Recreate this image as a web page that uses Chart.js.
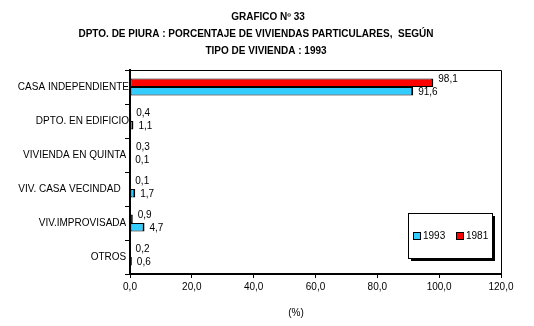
<!DOCTYPE html>
<html>
<head>
<meta charset="utf-8">
<script src="https://cdn.jsdelivr.net/npm/chart.js@4/dist/chart.umd.min.js"></script>
<style>
  html, body { margin: 0; padding: 0; background: #fff; }
  #wrap { width: 534px; height: 326px; }
</style>
</head>
<body>
<div id="wrap"><canvas id="viviendaChart" width="534" height="326"></canvas></div>
<script>
// datos
const categories = [
  "CASA INDEPENDIENTE",
  "DPTO. EN EDIFICIO",
  "VIVIENDA EN QUINTA ",
  "VIV. CASA VECINDAD   ",
  "VIV.IMPROVISADA ",
  "OTROS ",
];
const values1981 = [98.1, 0.4, 0.3, 0.1, 0.9, 0.2];
const values1993 = [91.6, 1.1, 0.1, 1.7, 4.7, 0.6];
const xTicks = [0, 20, 40, 60, 80, 100, 120];
const titleLines = [
  "GRAFICO Nº 33",
  "DPTO. DE PIURA : PORCENTAJE DE VIVIENDAS PARTICULARES,  SEGÚN",
  "TIPO DE VIVIENDA : 1993",
];

const BLUE = "#33CCFF";
const RED = "#FF0000";
const FONT = "'Liberation Sans', Arial, sans-serif";

const fmt = (v) => v.toFixed(1).replace(".", ",");

// -------------------------------------------------------------
// titulo, marco, etiquetas y leyenda dibujados a mano
// -------------------------------------------------------------
const decorPlugin = {
  id: "decor",
  beforeDraw(chart) {
    const c = chart.ctx;
    c.save();
    c.fillStyle = "#fff";
    c.fillRect(0, 0, chart.width, chart.height);
    c.restore();
  },
  afterDraw(chart) {
    const c = chart.ctx;
    const a = chart.chartArea;
    c.save();

    // titulo
    c.fillStyle = "#000";
    c.font = "bold 10px " + FONT;
    c.textAlign = "center";
    c.textBaseline = "middle";
    c.fillText(titleLines[0], 268, 17, 74);
    c.fillText(titleLines[1], 256, 34, 358);
    c.fillText(titleLines[2], 266, 51, 125);

    // marco superior y derecho
    c.strokeStyle = "#000";
    c.lineWidth = 1;
    c.beginPath();
    c.moveTo(a.left, a.top + 0.5);
    c.lineTo(a.right + 0.5, a.top + 0.5);
    c.lineTo(a.right + 0.5, a.bottom);
    c.stroke();

    // etiquetas de valores
    c.font = "10px " + FONT;
    c.textAlign = "left";
    chart.data.datasets.forEach((ds, i) => {
      const meta = chart.getDatasetMeta(i);
      meta.data.forEach((bar, j) => {
        const dy = i === 0 ? -4 : 1;
        c.fillText(fmt(ds.data[j]), bar.x + 5, bar.y + dy);
      });
    });

    // leyenda
    const lx = 408, ly = 213, lw = 84, lh = 45;
    c.fillStyle = "#000";
    c.fillRect(lx + 3, ly + 3, lw, lh);
    c.fillStyle = "#fff";
    c.fillRect(lx, ly, lw, lh);
    c.strokeRect(lx + 0.5, ly + 0.5, lw, lh);
    const items = [
      { text: "1993", color: BLUE, x: 413 },
      { text: "1981", color: RED, x: 456 },
    ];
    items.forEach((it) => {
      c.fillStyle = it.color;
      c.fillRect(it.x, 232, 7, 7);
      c.strokeRect(it.x + 0.5, 232.5, 7, 7);
      c.fillStyle = "#000";
      c.fillText(it.text, it.x + 10, 236);
    });

    // titulo del eje
    c.textAlign = "center";
    c.fillText("(%)", 296, 313);
    c.restore();
  },
};

const data = {
  labels: categories,
  datasets: [
    {
      label: "1981",
      data: values1981,
      backgroundColor: RED,
      borderColor: "#000",
      borderWidth: { top: 1, bottom: 1, left: 1, right: 2 },
      borderSkipped: false,
      categoryPercentage: 0.5,
      barPercentage: 1.0,
    },
    {
      label: "1993",
      data: values1993,
      backgroundColor: BLUE,
      borderColor: "#000",
      borderWidth: { top: 1, bottom: 1, left: 1, right: 2 },
      borderSkipped: false,
      categoryPercentage: 0.5,
      barPercentage: 1.0,
    },
  ],
};

const options = {
  indexAxis: "y",
  responsive: false,
  animation: false,
  layout: { padding: { left: 0, top: 70, right: 33, bottom: 0 } },
  plugins: {
    legend: { display: false },
    title: { display: false },
    tooltip: { enabled: false },
  },
  scales: {
    x: {
      min: 0,
      max: 120,
      afterBuildTicks(scale) {
        scale.ticks = xTicks.map((v) => ({ value: v }));
      },
      afterFit(scale) {
        scale.height = 52;
      },
      ticks: {
        color: "#000",
        font: { family: FONT, size: 10 },
        padding: 3,
        maxRotation: 0,
        callback: (v) => fmt(v),
      },
      grid: {
        drawOnChartArea: false,
        tickLength: 4,
        color: "#000",
      },
      border: { color: "#000", width: 2 },
    },
    y: {
      afterFit(scale) {
        scale.width = 130;
      },
      ticks: {
        color: "#000",
        font: { family: FONT, size: 10 },
        padding: -4,
        autoSkip: false,
      },
      grid: {
        drawOnChartArea: false,
        offset: true,
        tickLength: 5,
        color: "#000",
      },
      border: { color: "#000", width: 2 },
    },
  },
};

new Chart(document.getElementById("viviendaChart"), {
  type: "bar",
  data,
  options,
  plugins: [decorPlugin],
});
</script>
</body>
</html>
